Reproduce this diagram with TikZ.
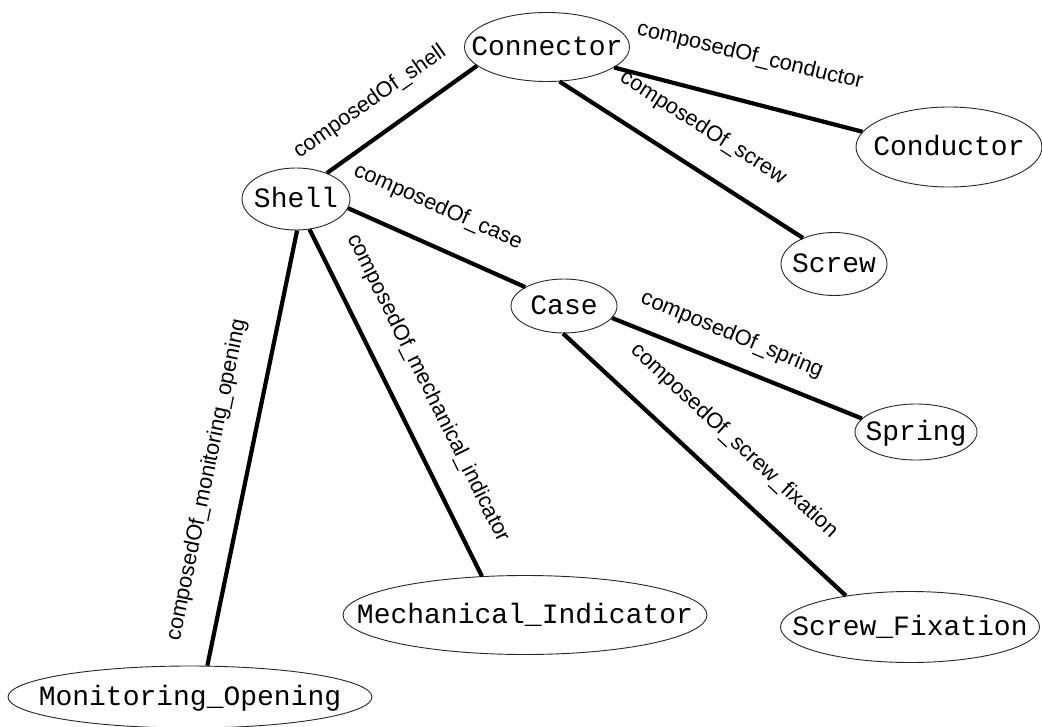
\documentclass[tikz,border=0pt]{standalone}
\usepackage{fontspec}
\setmainfont{Liberation Sans}
\newfontfamily\objfont{Liberation Mono}
\usetikzlibrary{shapes.geometric}
\tikzset{
  obj/.style={ellipse, draw=black!85, line width=0.9pt, inner sep=0pt, fill=white,
    font=\objfont\fontsize{28}{30}\selectfont, text height=16pt, text depth=0pt},
  rel/.style={line width=4.2pt, black},
  lbl/.style={font=\fontsize{21.8}{24}\selectfont, inner sep=0pt}
}
\begin{document}
\begin{tikzpicture}[x=1pt,y=-1pt]
\useasboundingbox (0,0) rectangle (1042,726);
% nodes
\node[obj, minimum width=165pt, minimum height=69pt] (connector) at (547,47) {\makebox[0pt]{Connector}};
\node[obj, minimum width=186pt, minimum height=80pt] (conductor) at (949,147) {\makebox[0pt]{Conductor}};
\node[obj, minimum width=106pt, minimum height=63pt] (screw) at (834,264) {\makebox[0pt]{Screw}};
\node[obj, minimum width=108pt, minimum height=62pt] (shell) at (296,199) {\makebox[0pt]{Shell}};
\node[obj, minimum width=106pt, minimum height=54pt] (case) at (564,306) {\makebox[0pt]{Case}};
\node[obj, minimum width=122pt, minimum height=56pt] (spring) at (916,432) {\makebox[0pt]{Spring}};
\node[obj, minimum width=364pt, minimum height=79pt] (mech) at (525,615) {\makebox[0pt]{Mechanical\_Indicator}};
\node[obj, minimum width=259pt, minimum height=71pt] (screwfix) at (910,627) {\makebox[0pt]{Screw\_Fixation}};
\node[obj, minimum width=364pt, minimum height=62pt] (monitor) at (190,697) {\makebox[0pt]{Monitoring\_Opening}};
% connectors
\draw[rel] (connector.195) -- (shell.40);
\draw[rel] (connector.343) -- (conductor.170);
\draw[rel] (connector.290) -- (screw.140);
\draw[rel] (shell.350) -- (case.154);
\draw[rel] (shell.294) -- (mech.138);
\draw[rel] (shell.272) -- (monitor.61);
\draw[rel] (case.346) -- (spring.166);
\draw[rel] (case.268) -- (screwfix.154);
% labels
\node[lbl, rotate=35] (l1) at (370,102) {composedOf\_shell};
\node[lbl, rotate=-13.5] (l2) at (750,56) {composedOf\_conductor};
\node[lbl, rotate=-32.6] (l3) at (703,128) {composedOf\_screw};
\node[lbl, rotate=-23.9] (l4) at (438,207) {composedOf\_case};
\node[lbl, rotate=-22.5] (l5) at (732,335) {composedOf\_spring};
\node[lbl, rotate=-42.9] (l6) at (734,441) {composedOf\_screw\_fixation};
\node[lbl, rotate=-63.6] (l7) at (428,388) {composedOf\_mechanical\_indicator};
\node[lbl, rotate=78.4] (l8) at (207,480) {composedOf\_monitoring\_opening};
\end{tikzpicture}
\end{document}
